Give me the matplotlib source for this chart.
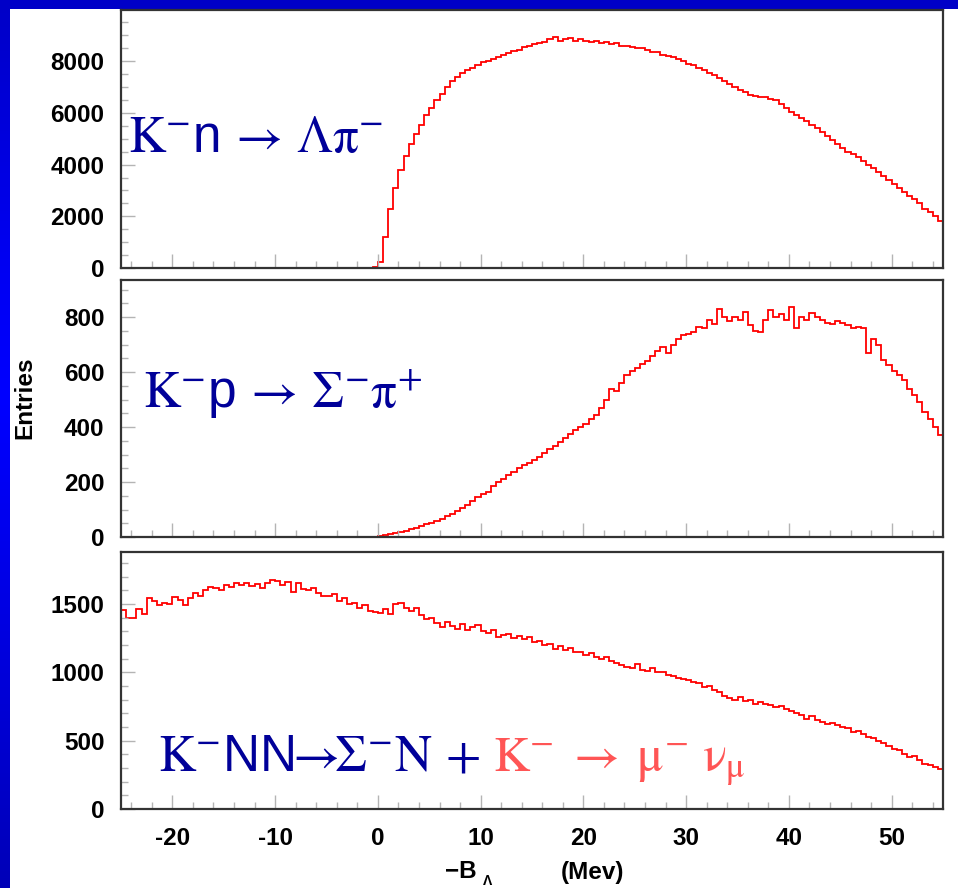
import numpy as np
import matplotlib.pyplot as plt
from matplotlib.colors import LinearSegmentedColormap
from matplotlib.patches import Rectangle
from matplotlib.ticker import MultipleLocator

plt.rcParams['font.family'] = ['Liberation Sans', 'DejaVu Sans']
plt.rcParams['mathtext.fontset'] = 'custom'
plt.rcParams['mathtext.rm'] = 'STIXGeneral'
plt.rcParams['mathtext.it'] = 'STIXGeneral:italic'
plt.rcParams['mathtext.sf'] = 'Liberation Sans'
plt.rcParams['mathtext.fallback'] = 'stix'
plt.rcParams['axes.unicode_minus'] = False

# bin edges: -25 .. 55 MeV, 0.5 MeV bins
edges = np.arange(-25, 55.01, 0.5)

# K- n -> Lambda pi-
k_n = [0] * 49 + [30,
    250, 1200, 2300, 3100, 3800, 4350, 4800, 5200, 5550, 5900,
    6200, 6500, 6750, 7000, 7250, 7400, 7550, 7650, 7750, 7850,
    7950, 8000, 8100, 8150, 8250, 8300, 8400, 8450, 8550, 8600,
    8650, 8700, 8750, 8850, 8950, 8800, 8850, 8900, 8800, 8850,
    8800, 8750, 8800, 8700, 8750, 8650, 8700, 8600, 8600, 8550,
    8500, 8500, 8450, 8350, 8350, 8250, 8200, 8150, 8100, 8000,
    7900, 7850, 7750, 7650, 7550, 7450, 7350, 7250, 7100, 7000,
    6900, 6800, 6700, 6650, 6600, 6600, 6550, 6500, 6350, 6200,
    6050, 5900, 5800, 5700, 5550, 5400, 5250, 5100, 4950, 4800,
    4650, 4500, 4400, 4300, 4150, 4000, 3850, 3700, 3550, 3400,
    3250, 3100, 2950, 2800, 2650, 2500, 2300, 2150, 2000, 1800]

# K- p -> Sigma- pi+
k_p = [0] * 50 + [
    3, 6, 10, 14, 19, 22, 28, 34, 40, 47,
    52, 58, 66, 75, 84, 95, 105, 118, 130, 145,
    155, 165, 185, 200, 210, 225, 235, 250, 262, 270,
    280, 290, 305, 320, 330, 345, 360, 375, 390, 400,
    410, 430, 445, 470, 500, 540, 530, 560, 590, 605,
    615, 630, 640, 660, 675, 690, 670, 700, 720, 735,
    740, 745, 765, 760, 790, 775, 830, 800, 785, 800,
    790, 820, 770, 750, 745, 790, 825, 800, 810, 790,
    835, 760, 800, 790, 815, 800, 790, 780, 775, 785,
    780, 770, 760, 765, 760, 670, 720, 700, 645, 625,
    605, 590, 570, 540, 515, 490, 455, 430, 400, 370]

# K- NN -> Sigma- N + K- -> mu- nu
k_nn = [
    1455, 1400, 1395, 1460, 1430, 1545, 1520, 1495, 1510, 1500,
    1550, 1530, 1495, 1540, 1580, 1560, 1600, 1625, 1615, 1600,
    1640, 1625, 1650, 1640, 1655, 1630, 1645, 1615, 1650, 1675,
    1670, 1640, 1660, 1590, 1650, 1610, 1600, 1620, 1580, 1560,
    1555, 1570, 1520, 1540, 1500, 1510, 1470, 1490, 1450, 1440,
    1435, 1460, 1430, 1500, 1505, 1470, 1450, 1470, 1420, 1390,
    1400, 1360, 1330, 1370, 1340, 1320, 1350, 1310, 1335, 1345,
    1300, 1290, 1310, 1255, 1270, 1280, 1250, 1265, 1240, 1255,
    1225, 1230, 1200, 1210, 1170, 1190, 1160, 1175, 1150, 1145,
    1130, 1140, 1110, 1100, 1115, 1080, 1070, 1050, 1040, 1035,
    1060, 1020, 1010, 1030, 1000, 1005, 980, 970, 960, 950,
    945, 930, 920, 890, 900, 870, 855, 830, 810, 800,
    820, 790, 800, 770, 785, 770, 760, 745, 750, 730,
    720, 700, 690, 660, 680, 650, 640, 620, 630, 615,
    600, 590, 560, 570, 550, 530, 520, 500, 480, 460,
    440, 430, 400, 380, 385, 360, 330, 320, 305, 290]

W, H = 958, 888
fig = plt.figure(figsize=(W / 100, H / 100), dpi=100)
fig.patch.set_facecolor('white')

# blue slide frame (left strip with gradient, top strip)
bg = fig.add_axes([0, 0, 1, 1], zorder=-10)
bg.set_axis_off()
blues = LinearSegmentedColormap.from_list('b', [
    (0.0, (0, 0, 0.78)), (0.3, (0, 0, 0.95)), (0.45, (0, 0, 1.0)),
    (0.75, (0, 0, 0.86)), (1.0, (0, 0, 0.72))])
bg.imshow(np.linspace(0, 1, 256)[:, None], cmap=blues, aspect='auto',
          extent=[0, 10, H, 0])
bg.add_patch(Rectangle((0, 0), W, 9, color='#0000c8', lw=0))
bg.set_xlim(0, W)
bg.set_ylim(H, 0)

left, right = 121, 943
panels = [
    (10, 268, k_n, 9980, 2000, 500),
    (280, 537, k_p, 935, 200, 50),
    (552, 809, k_nn, 1880, 500, 100),
]
axes = []
for top, bot, vals, ymax, maj, mnr in panels:
    ax = fig.add_axes([left / W, 1 - bot / H, (right - left) / W, (bot - top) / H])
    ax.stairs(vals, edges, baseline=0, color='#ff0000', lw=1.3)
    ax.set_xlim(-25, 55)
    ax.set_ylim(0, ymax)
    ax.xaxis.set_major_locator(MultipleLocator(10))
    ax.xaxis.set_minor_locator(MultipleLocator(2))
    ax.yaxis.set_major_locator(MultipleLocator(maj))
    ax.yaxis.set_minor_locator(MultipleLocator(mnr))
    ax.tick_params(which='both', direction='in', top=False, right=False,
                   color='#b4b4b4', width=1, labelsize=17.5)
    ax.tick_params(which='major', length=10)
    ax.tick_params(which='minor', length=5)
    ax.tick_params(axis='y', pad=12)
    ax.tick_params(axis='x', pad=13)
    for lab in ax.get_xticklabels() + ax.get_yticklabels():
        lab.set_fontweight('bold')
    for s in ax.spines.values():
        s.set_color('#333333')
        s.set_linewidth(1.6)
    axes.append(ax)

axes[0].tick_params(labelbottom=False)
axes[1].tick_params(labelbottom=False)

navy = '#000099'
axes[0].text(0.0085, 0.45, r'$\mathrm{K}^{-}\mathsf{n}\,\rightarrow\,\mathrm{\Lambda\pi}^{-}$',
             transform=axes[0].transAxes, fontsize=37, color=navy, va='baseline')
axes[1].text(0.027, 0.502, r'$\mathrm{K}^{-}\mathsf{p}\,\rightarrow\,\mathrm{\Sigma}^{-}\mathrm{\pi}^{+}$',
             transform=axes[1].transAxes, fontsize=37, color=navy, va='baseline')
t1 = axes[2].text(0.045, 0.148,
                  r'$\mathrm{K}^{-}\mathsf{NN}\!\!\rightarrow\!\!\mathrm{\Sigma}^{-}\mathrm{N}\,+$',
                  transform=axes[2].transAxes, fontsize=37, color=navy, va='baseline')

fig.canvas.draw()
bb = t1.get_window_extent()
xr = axes[2].transAxes.inverted().transform((bb.x1 + 13, bb.y0))[0]
axes[2].text(xr, 0.148, r'$\mathrm{K}^{-}\;\rightarrow\;\mathrm{\mu}^{-}\ \mathrm{\nu}_{\mathrm{\mu}}$',
             transform=axes[2].transAxes, fontsize=36, color='#ff5555', va='baseline')

fig.text(25 / W, 1 - 398 / H, 'Entries', rotation=90, fontsize=17.5,
         fontweight='bold', ha='center', va='center')
fig.text(445 / W, 1 - 878 / H, '\u2212B', fontsize=17.5, fontweight='bold',
         ha='left', va='baseline')
fig.text(483 / W, 1 - 874 / H, '\u039b', fontsize=10, fontweight='bold',
         ha='left', va='top')
fig.text(592 / W, 1 - 872 / H, '(Mev)', fontsize=17.5, fontweight='bold',
         ha='center', va='center')

fig.savefig('out.png', dpi=100)
